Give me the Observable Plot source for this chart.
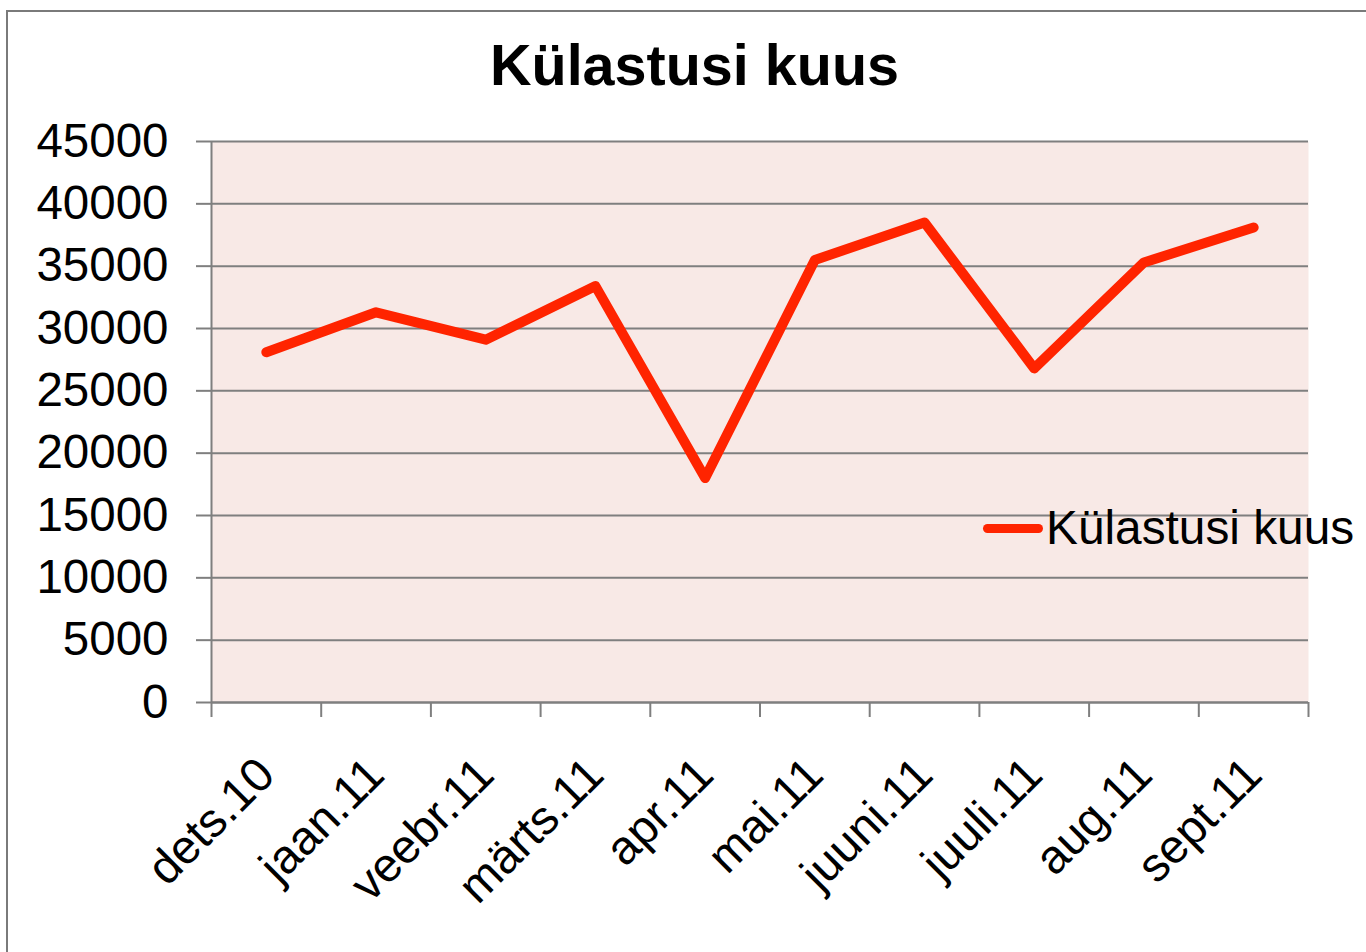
<!DOCTYPE html>
<html>
<head>
<meta charset="utf-8">
<script src="https://cdn.jsdelivr.net/npm/d3@7"></script>
<script src="https://cdn.jsdelivr.net/npm/@observablehq/plot@0.6"></script>
<style>
  html, body { margin: 0; padding: 0; background: #ffffff; }
  body { width: 1366px; height: 952px; position: relative; overflow: hidden;
         font-family: "Liberation Sans", Arial, Helvetica, sans-serif; }
  #frame { position: absolute; left: 6px; top: 10px; width: 1420px; height: 1000px;
           border-top: 2px solid #7a7a7a; border-left: 2px solid #7a7a7a; box-sizing: border-box; }
  #chart { position: absolute; left: 0; top: 0; }
  #title { position: absolute; left: 0; top: 37px; width: 1389px; text-align: center;
           font-size: 57.5px; font-weight: bold; line-height: 57px; color: #000; }
  #legend { position: absolute; left: 983px; top: 502px; height: 52px; display: flex; align-items: center;
            font-size: 47.8px; line-height: 52px; color: #000; white-space: nowrap; }
  #legend .swatch { display: inline-block; width: 60px; height: 9px; border-radius: 5px; background: #FF2400;
                    margin-right: 3px; }
</style>
</head>
<body>
<div id="frame"></div>
<div id="chart"></div>
<div id="title"></div>
<div id="legend"><span class="swatch"></span><span id="legendText"></span></div>
<script>
const title = "Külastusi kuus";
const seriesName = "Külastusi kuus";
const months = ["dets.10", "jaan.11", "veebr.11", "märts.11", "apr.11", "mai.11", "juuni.11", "juuli.11", "aug.11", "sept.11"];
const visits = [28100, 31300, 29100, 33400, 18000, 35500, 38500, 26800, 35300, 38100];
const yTicks = [0, 5000, 10000, 15000, 20000, 25000, 30000, 35000, 40000, 45000];

const lineColor = "#FF2400";
const gridColor = "#7f7f7f";
const bgColor = "#F8E9E6";

const data = months.map((m, i) => ({month: m, idx: i, value: visits[i]}));
const boundaries = d3.range(0, months.length + 1);

document.getElementById("title").textContent = title;
document.getElementById("legendText").textContent = seriesName;

const chart = Plot.plot({
  width: 1366,
  height: 952,
  marginLeft: 211,
  marginRight: 58,
  marginTop: 141,
  marginBottom: 250,
  style: {fontFamily: '"Liberation Sans", Arial, sans-serif', fontSize: "47.5px", background: "transparent", color: "#000"},
  x: {type: "linear", domain: [0, months.length]},
  y: {domain: [0, 45000]},
  marks: [
    Plot.frame({fill: bgColor, stroke: null}),
    Plot.gridY(yTicks, {stroke: gridColor, strokeOpacity: 1, strokeWidth: 2}),
    Plot.axisY(yTicks, {tickSize: 15, tickPadding: 28, stroke: gridColor, strokeWidth: 2, fill: "#000",
                        tickFormat: d => String(d), label: null, fontSize: 47.5}),
    Plot.axisX(boundaries, {tickSize: 15, stroke: gridColor, strokeWidth: 2, tickFormat: () => "", label: null}),
    Plot.ruleX([0], {stroke: gridColor, strokeWidth: 2}),
    Plot.ruleY([0], {stroke: gridColor, strokeWidth: 2}),
    Plot.text(data, {x: d => d.idx + 0.5, y: () => 0, text: "month", rotate: -45, textAnchor: "end",
                     lineAnchor: "middle", dy: 64, fontSize: 47.5, fill: "#000"}),
    Plot.line(data, {x: d => d.idx + 0.5, y: "value", stroke: lineColor, strokeWidth: 10,
                     strokeLinejoin: "round", strokeLinecap: "round"})
  ]
});
document.getElementById("chart").appendChild(chart);
</script>
</body>
</html>
